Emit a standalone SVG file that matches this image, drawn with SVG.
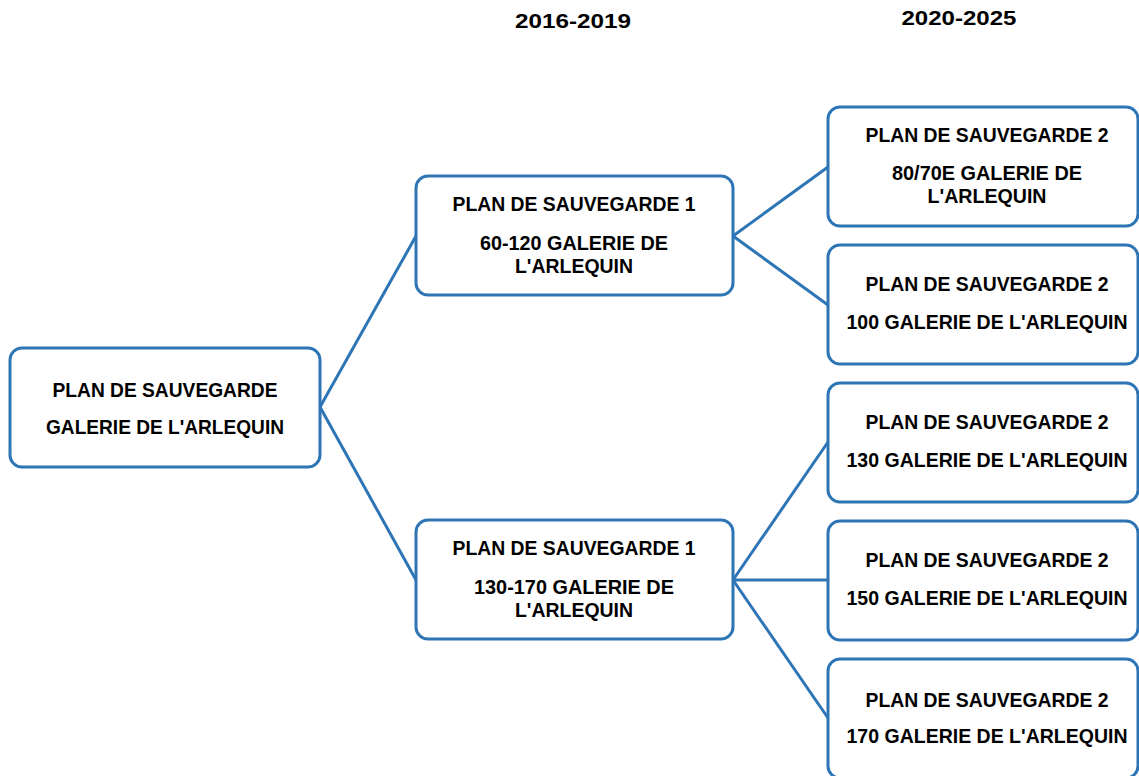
<svg xmlns="http://www.w3.org/2000/svg" width="1139" height="776" viewBox="0 0 1139 776">
<style>
.box{fill:#fff;stroke:#2E75B6;stroke-width:3}
.t{font-family:"Liberation Sans",Arial,sans-serif;font-weight:bold;font-size:19.5px;fill:#000;text-anchor:middle}
.c{stroke:#2E75B6;stroke-width:3;fill:none}
</style>
<rect width="1139" height="776" fill="#fff"/>
<text class="t" x="573" y="28" textLength="116" lengthAdjust="spacingAndGlyphs">2016-2019</text>
<text class="t" x="959" y="25" textLength="115" lengthAdjust="spacingAndGlyphs">2020-2025</text>
<g id="connectors">
<line class="c" x1="320" y1="407" x2="416" y2="236"/>
<line class="c" x1="320" y1="407" x2="416" y2="580"/>
<line class="c" x1="733" y1="236" x2="828" y2="167"/>
<line class="c" x1="733" y1="236" x2="828" y2="305"/>
<line class="c" x1="733" y1="580" x2="828" y2="442"/>
<line class="c" x1="733" y1="580" x2="828" y2="580"/>
<line class="c" x1="733" y1="580" x2="828" y2="718"/>
</g>
<g id="root">
<rect class="box" x="10" y="348" width="310" height="119" rx="12"/>
<text class="t" x="165" y="397" textLength="225" lengthAdjust="spacingAndGlyphs">PLAN DE SAUVEGARDE</text>
<text class="t" x="165" y="434" textLength="238" lengthAdjust="spacingAndGlyphs">GALERIE DE L'ARLEQUIN</text>
</g>
<g id="p1a">
<rect class="box" x="416" y="176" width="317" height="119" rx="12"/>
<text class="t" x="574" y="211" textLength="243" lengthAdjust="spacingAndGlyphs">PLAN DE SAUVEGARDE 1</text>
<text class="t" x="574" y="250" textLength="188" lengthAdjust="spacingAndGlyphs">60-120 GALERIE DE</text>
<text class="t" x="574" y="273" textLength="118" lengthAdjust="spacingAndGlyphs">L'ARLEQUIN</text>
</g>
<g id="p1b">
<rect class="box" x="416" y="520" width="317" height="119" rx="12"/>
<text class="t" x="574" y="555" textLength="243" lengthAdjust="spacingAndGlyphs">PLAN DE SAUVEGARDE 1</text>
<text class="t" x="574" y="594" textLength="200" lengthAdjust="spacingAndGlyphs">130-170 GALERIE DE</text>
<text class="t" x="574" y="617" textLength="118" lengthAdjust="spacingAndGlyphs">L'ARLEQUIN</text>
</g>
<g id="p2a">
<rect class="box" x="828" y="107" width="310" height="119" rx="12"/>
<text class="t" x="987" y="142" textLength="243" lengthAdjust="spacingAndGlyphs">PLAN DE SAUVEGARDE 2</text>
<text class="t" x="987" y="180" textLength="190" lengthAdjust="spacingAndGlyphs">80/70E GALERIE DE</text>
<text class="t" x="987" y="203" textLength="119" lengthAdjust="spacingAndGlyphs">L'ARLEQUIN</text>
</g>
<g id="p2b">
<rect class="box" x="828" y="245" width="310" height="119" rx="12"/>
<text class="t" x="987" y="291" textLength="243" lengthAdjust="spacingAndGlyphs">PLAN DE SAUVEGARDE 2</text>
<text class="t" x="987" y="329" textLength="281" lengthAdjust="spacingAndGlyphs">100 GALERIE DE L'ARLEQUIN</text>
</g>
<g id="p2c">
<rect class="box" x="828" y="383" width="310" height="119" rx="12"/>
<text class="t" x="987" y="429" textLength="243" lengthAdjust="spacingAndGlyphs">PLAN DE SAUVEGARDE 2</text>
<text class="t" x="987" y="467" textLength="281" lengthAdjust="spacingAndGlyphs">130 GALERIE DE L'ARLEQUIN</text>
</g>
<g id="p2d">
<rect class="box" x="828" y="521" width="310" height="119" rx="12"/>
<text class="t" x="987" y="567" textLength="243" lengthAdjust="spacingAndGlyphs">PLAN DE SAUVEGARDE 2</text>
<text class="t" x="987" y="605" textLength="281" lengthAdjust="spacingAndGlyphs">150 GALERIE DE L'ARLEQUIN</text>
</g>
<g id="p2e">
<rect class="box" x="828" y="659" width="310" height="119" rx="12"/>
<text class="t" x="987" y="707" textLength="243" lengthAdjust="spacingAndGlyphs">PLAN DE SAUVEGARDE 2</text>
<text class="t" x="987" y="743" textLength="281" lengthAdjust="spacingAndGlyphs">170 GALERIE DE L'ARLEQUIN</text>
</g>
</svg>
